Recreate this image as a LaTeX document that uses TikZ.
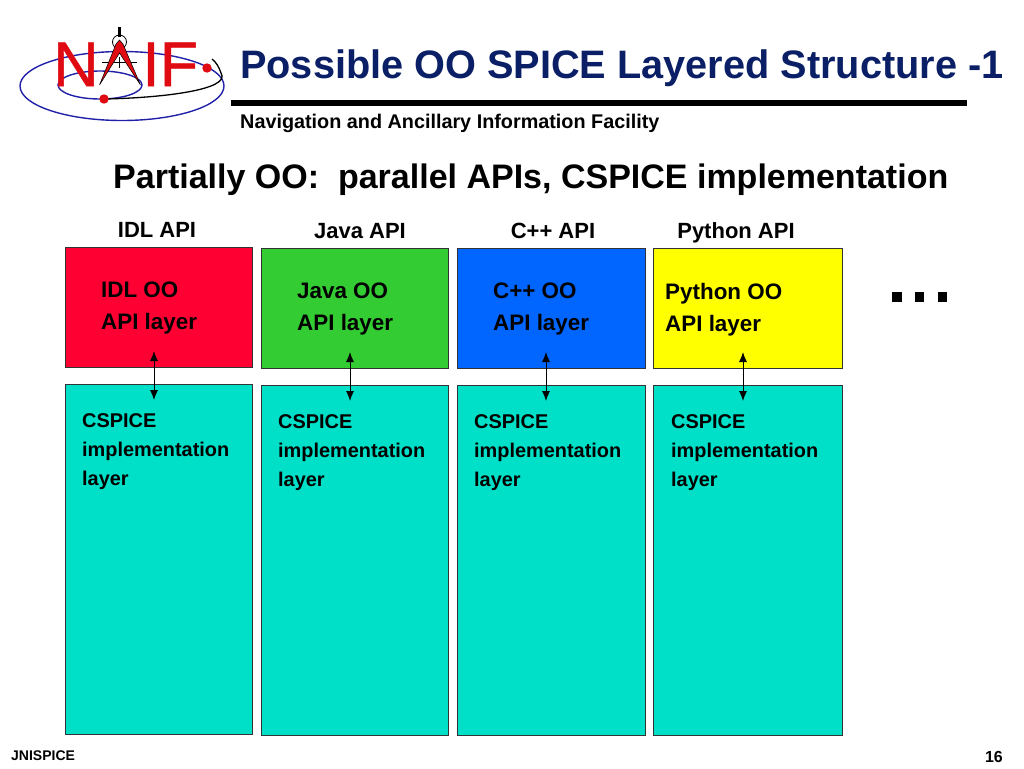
\documentclass[tikz,border=0pt]{standalone}
\usepackage{fontspec}
\usetikzlibrary{arrows.meta}
\setmainfont{Liberation Sans}
\newfontfamily\logofont[FakeBold=0.8]{Liberation Sans}
\definecolor{naifred}{HTML}{E00A12}
\definecolor{naifblue}{HTML}{2020A8}
\definecolor{titleblue}{HTML}{0A1F66}
\definecolor{apired}{HTML}{FF0033}
\definecolor{apigreen}{HTML}{33CC33}
\definecolor{apiblue}{HTML}{0066FF}
\definecolor{apiyellow}{HTML}{FFFF00}
\definecolor{cspiceteal}{HTML}{00E0C8}
\begin{document}
\begin{tikzpicture}[x=1pt,y=-1pt,
		layerbox/.style={draw=black!80,line width=1pt},
		boxtext/.style={anchor=north west,inner sep=0pt,align=left,font=\fontsize{22.4}{32}\selectfont\bfseries},
		implabel/.style={anchor=north west,inner sep=0pt,align=left,font=\fontsize{19.9}{29}\selectfont\bfseries},
		apilabel/.style={anchor=base,inner sep=0pt,font=\fontsize{22}{25}\selectfont\bfseries},
		linkarrow/.style={line width=1pt,{Latex[length=10pt,width=8pt]}-{Latex[length=10pt,width=8pt]}},
		dotbox/.style={fill=black,minimum size=9.5pt,inner sep=0pt}]
	\useasboundingbox (0,0) rectangle (1024,768);
	
	% Draw the logo orbits
	\draw[naifblue,line width=1.4pt] (122,86) ellipse [x radius=102,y radius=34.5];
	\draw[naifblue,line width=1.4pt] (100,85) ellipse [x radius=42,y radius=14];
	\draw[black,line width=1.3pt] (104,99) .. controls (160,98) and (232,90) .. (221,73) .. controls (219,67) and (216,62) .. (212,59);
	\fill[naifred] (104,99) circle (4.7);
	\fill[naifred] (207,68) circle (4.7);
	
	% Letters and compass of the logo
	\node (logoN) [anchor=base west,inner sep=0pt,text=naifred,font=\fontsize{63}{63}\logofont] at (53,86) {N};
	\node (logoIF) [anchor=base west,inner sep=0pt,text=naifred,font=\fontsize{63}{63}\logofont] at (142,86) {IF};
	\draw[black,line width=2.5pt] (119.5,27) -- (119.5,37);
	\draw[black,line width=.8pt] (119.5,42) circle (7);
	\draw[black,line width=1.2pt] (102,62.5) -- (137,62.5);
	\draw[black,line width=1.2pt] (119.5,57) -- (119.5,68);
	\fill[naifred,draw=black,line width=.5pt] (116,44) -- (119.5,40) -- (123,44) -- (140.5,85) -- (119.5,53) -- (99.5,85) -- cycle;
	
	% Title and headings
	\node (title) [anchor=base west,inner sep=0pt,text=titleblue,font=\fontsize{39.7}{44}\selectfont\bfseries] at (240,78.5) {Possible OO SPICE Layered Structure -1};
	\draw[black,line width=6pt] (231,103) -- (967,103);
	\node (subtitle) [anchor=base west,inner sep=0pt,font=\fontsize{19.8}{22}\selectfont\bfseries] at (240,128) {Navigation and Ancillary Information Facility};
	\node (heading) [anchor=base west,inner sep=0pt,font=\fontsize{34}{38}\selectfont\bfseries] at (113,188) {Partially OO:\ \ parallel APIs, CSPICE implementation};
	
	% API labels
	\node (idlapi) [apilabel] at (157,237) {IDL API};
	\node (javaapi) [apilabel] at (360,238) {Java API};
	\node (cppapi) [apilabel] at (553,238) {C++ API};
	\node (pythonapi) [apilabel] at (736,238) {Python API};
	
	% API layer boxes
	\path[layerbox,fill=apired] (65,247) rectangle (252,367);
	\path[layerbox,fill=apigreen] (261,248) rectangle (448,368);
	\path[layerbox,fill=apiblue] (457,248) rectangle (645,368);
	\path[layerbox,fill=apiyellow] (653,248) rectangle (842,368);
	
	% CSPICE layer boxes
	\path[layerbox,fill=cspiceteal] (65,384) rectangle (252,734);
	\path[layerbox,fill=cspiceteal] (261,385) rectangle (448,735);
	\path[layerbox,fill=cspiceteal] (457,385) rectangle (645,735);
	\path[layerbox,fill=cspiceteal] (653,385) rectangle (842,735);
	
	% Text in the boxes
	\node (idloo) [boxtext] at (101,282) {IDL OO\\API layer};
	\node (javaoo) [boxtext] at (297,283) {Java OO\\API layer};
	\node (cppoo) [boxtext] at (493,283) {C++ OO\\API layer};
	\node (pythonoo) [boxtext] at (665,283) {Python OO\\API layer};
	\node (idlimp) [implabel] at (82,413) {CSPICE\\implementation\\layer};
	\node (javaimp) [implabel] at (278,414) {CSPICE\\implementation\\layer};
	\node (cppimp) [implabel] at (474,414) {CSPICE\\implementation\\layer};
	\node (pythonimp) [implabel] at (671,414) {CSPICE\\implementation\\layer};
	
	% Define the ends of the arrows
	\coordinate (idltop) at (154,351);
	\coordinate (idlbot) at (154,400);
	\coordinate (javatop) at (350,352);
	\coordinate (javabot) at (350,401);
	\coordinate (cpptop) at (546,352);
	\coordinate (cppbot) at (546,401);
	\coordinate (pythontop) at (743,352);
	\coordinate (pythonbot) at (743,401);
	
	% Draw the arrows between the layers
	\draw[linkarrow] (idltop) -- (idlbot);
	\draw[linkarrow] (javatop) -- (javabot);
	\draw[linkarrow] (cpptop) -- (cppbot);
	\draw[linkarrow] (pythontop) -- (pythonbot);
	
	% Dots on the right
	\node (dotA) [dotbox] at (897,297) {};
	\node (dotB) [dotbox] at (919.5,297) {};
	\node (dotC) [dotbox] at (942.5,297) {};
	
	% Footer
	\node (jnispice) [anchor=base west,inner sep=0pt,font=\fontsize{14}{16}\selectfont\bfseries] at (11,760) {JNISPICE};
	\node (pagenum) [anchor=base east,inner sep=0pt,font=\fontsize{16}{18}\selectfont\bfseries] at (1003,762) {16};
\end{tikzpicture}
\end{document}
